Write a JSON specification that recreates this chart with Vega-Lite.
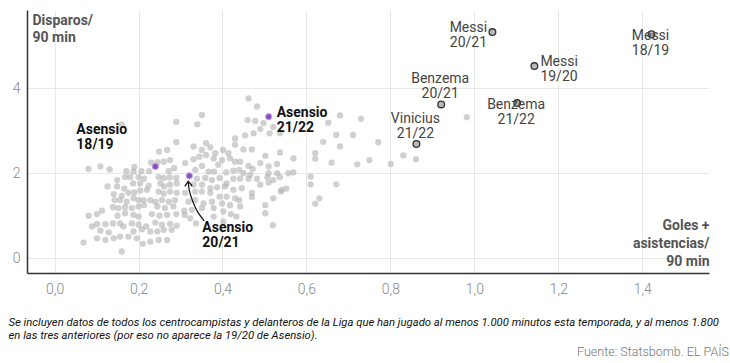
{
  "$schema": "https://vega.github.io/schema/vega-lite/v6.json",
  "width": 682,
  "height": 263,
  "autosize": {"type": "none"},
  "padding": {"left": 27, "top": 10, "right": 21, "bottom": 90},
  "background": "white",
  "config": {"view": {"stroke": null}, "font": "Roboto"},
  "datasets": {
    "nube": [
      {"ga":0.160,"disp":3.15},{"ga":0.290,"disp":3.21},{"ga":0.290,"disp":2.73},{"ga":0.268,"disp":2.55},{"ga":0.249,"disp":2.51},{"ga":0.260,"disp":2.27},{"ga":0.230,"disp":2.25},{"ga":0.245,"disp":2.26},{"ga":0.275,"disp":2.31},{"ga":0.081,"disp":2.10},{"ga":0.109,"disp":2.16},{"ga":0.131,"disp":2.09},{"ga":0.171,"disp":2.05},{"ga":0.190,"disp":2.15},{"ga":0.188,"disp":2.04},{"ga":0.207,"disp":2.05},{"ga":0.225,"disp":2.05},{"ga":0.272,"disp":2.05},{"ga":0.285,"disp":2.12},{"ga":0.149,"disp":1.84},{"ga":0.168,"disp":1.91},{"ga":0.180,"disp":1.91},{"ga":0.200,"disp":1.91},{"ga":0.213,"disp":1.87},{"ga":0.248,"disp":1.91},{"ga":0.260,"disp":1.89},{"ga":0.274,"disp":1.90},{"ga":0.290,"disp":1.89},{"ga":0.126,"disp":1.69},{"ga":0.149,"disp":1.69},{"ga":0.166,"disp":1.64},{"ga":0.187,"disp":1.76},{"ga":0.204,"disp":1.76},{"ga":0.224,"disp":1.71},{"ga":0.252,"disp":1.76},{"ga":0.261,"disp":1.69},{"ga":0.275,"disp":1.73},{"ga":0.291,"disp":1.76},{"ga":0.141,"disp":1.51},{"ga":0.160,"disp":1.47},{"ga":0.176,"disp":1.54},{"ga":0.190,"disp":1.55},{"ga":0.204,"disp":1.59},{"ga":0.220,"disp":1.61},{"ga":0.248,"disp":1.57},{"ga":0.260,"disp":1.52},{"ga":0.275,"disp":1.57},{"ga":0.291,"disp":1.54},{"ga":0.143,"disp":1.37},{"ga":0.156,"disp":1.37},{"ga":0.172,"disp":1.33},{"ga":0.188,"disp":1.41},{"ga":0.200,"disp":1.37},{"ga":0.212,"disp":1.37},{"ga":0.228,"disp":1.37},{"ga":0.240,"disp":1.33},{"ga":0.256,"disp":1.37},{"ga":0.272,"disp":1.33},{"ga":0.287,"disp":1.37},{"ga":0.113,"disp":1.12},{"ga":0.139,"disp":1.20},{"ga":0.152,"disp":1.18},{"ga":0.168,"disp":1.20},{"ga":0.184,"disp":1.18},{"ga":0.200,"disp":1.22},{"ga":0.213,"disp":1.25},{"ga":0.245,"disp":1.22},{"ga":0.263,"disp":1.18},{"ga":0.283,"disp":1.22},{"ga":0.081,"disp":1.00},{"ga":0.101,"disp":1.04},{"ga":0.150,"disp":1.00},{"ga":0.168,"disp":1.06},{"ga":0.188,"disp":1.02},{"ga":0.200,"disp":0.98},{"ga":0.232,"disp":1.04},{"ga":0.250,"disp":1.00},{"ga":0.268,"disp":1.02},{"ga":0.290,"disp":1.04},{"ga":0.089,"disp":0.75},{"ga":0.101,"disp":0.80},{"ga":0.121,"disp":0.80},{"ga":0.139,"disp":0.82},{"ga":0.156,"disp":0.82},{"ga":0.164,"disp":0.75},{"ga":0.184,"disp":0.82},{"ga":0.200,"disp":0.79},{"ga":0.218,"disp":0.75},{"ga":0.240,"disp":0.84},{"ga":0.256,"disp":0.79},{"ga":0.275,"disp":0.81},{"ga":0.291,"disp":0.77},{"ga":0.109,"disp":0.65},{"ga":0.129,"disp":0.61},{"ga":0.188,"disp":0.63},{"ga":0.208,"disp":0.68},{"ga":0.228,"disp":0.63},{"ga":0.245,"disp":0.63},{"ga":0.260,"disp":0.67},{"ga":0.279,"disp":0.67},{"ga":0.069,"disp":0.37},{"ga":0.101,"disp":0.47},{"ga":0.121,"disp":0.43},{"ga":0.141,"disp":0.47},{"ga":0.156,"disp":0.51},{"ga":0.176,"disp":0.51},{"ga":0.196,"disp":0.47},{"ga":0.210,"disp":0.34},{"ga":0.228,"disp":0.39},{"ga":0.248,"disp":0.43},{"ga":0.268,"disp":0.43},{"ga":0.160,"disp":0.16},
      {"ga":0.462,"disp":3.76},{"ga":0.482,"disp":3.57},{"ga":0.351,"disp":3.37},{"ga":0.340,"disp":3.15},{"ga":0.460,"disp":3.25},{"ga":0.478,"disp":3.23},{"ga":0.498,"disp":3.18},{"ga":0.521,"disp":3.09},{"ga":0.490,"disp":3.04},{"ga":0.430,"disp":2.82},{"ga":0.454,"disp":2.89},{"ga":0.474,"disp":2.94},{"ga":0.512,"disp":2.94},{"ga":0.537,"disp":2.94},{"ga":0.361,"disp":2.71},{"ga":0.371,"disp":2.61},{"ga":0.331,"disp":2.63},{"ga":0.351,"disp":2.55},{"ga":0.383,"disp":2.47},{"ga":0.401,"disp":2.55},{"ga":0.414,"disp":2.47},{"ga":0.430,"disp":2.67},{"ga":0.450,"disp":2.56},{"ga":0.470,"disp":2.56},{"ga":0.502,"disp":2.41},{"ga":0.537,"disp":2.49},{"ga":0.311,"disp":2.24},{"ga":0.331,"disp":2.33},{"ga":0.345,"disp":2.39},{"ga":0.361,"disp":2.43},{"ga":0.379,"disp":2.35},{"ga":0.399,"disp":2.31},{"ga":0.418,"disp":2.35},{"ga":0.430,"disp":2.27},{"ga":0.442,"disp":2.27},{"ga":0.462,"disp":2.17},{"ga":0.472,"disp":2.10},{"ga":0.490,"disp":2.24},{"ga":0.510,"disp":2.16},{"ga":0.530,"disp":2.22},{"ga":0.335,"disp":2.08},{"ga":0.351,"disp":2.17},{"ga":0.367,"disp":2.04},{"ga":0.380,"disp":2.04},{"ga":0.390,"disp":2.20},{"ga":0.409,"disp":2.02},{"ga":0.426,"disp":2.06},{"ga":0.440,"disp":2.08},{"ga":0.450,"disp":2.00},{"ga":0.466,"disp":1.96},{"ga":0.510,"disp":2.00},{"ga":0.530,"disp":2.00},{"ga":0.557,"disp":2.00},{"ga":0.339,"disp":1.87},{"ga":0.359,"disp":1.89},{"ga":0.375,"disp":1.84},{"ga":0.393,"disp":1.89},{"ga":0.410,"disp":1.76},{"ga":0.426,"disp":1.87},{"ga":0.442,"disp":1.87},{"ga":0.462,"disp":1.87},{"ga":0.482,"disp":1.87},{"ga":0.507,"disp":1.91},{"ga":0.521,"disp":1.84},{"ga":0.537,"disp":1.91},{"ga":0.331,"disp":1.73},{"ga":0.351,"disp":1.73},{"ga":0.371,"disp":1.65},{"ga":0.387,"disp":1.67},{"ga":0.406,"disp":1.69},{"ga":0.426,"disp":1.61},{"ga":0.446,"disp":1.65},{"ga":0.470,"disp":1.54},{"ga":0.490,"disp":1.73},{"ga":0.510,"disp":1.78},{"ga":0.539,"disp":1.57},{"ga":0.311,"disp":1.54},{"ga":0.335,"disp":1.57},{"ga":0.351,"disp":1.57},{"ga":0.371,"disp":1.54},{"ga":0.393,"disp":1.45},{"ga":0.410,"disp":1.45},{"ga":0.430,"disp":1.41},{"ga":0.470,"disp":1.44},{"ga":0.521,"disp":1.41},{"ga":0.541,"disp":1.61},{"ga":0.319,"disp":1.33},{"ga":0.335,"disp":1.37},{"ga":0.355,"disp":1.29},{"ga":0.375,"disp":1.33},{"ga":0.399,"disp":1.29},{"ga":0.418,"disp":1.25},{"ga":0.440,"disp":1.37},{"ga":0.502,"disp":1.25},{"ga":0.309,"disp":1.12},{"ga":0.327,"disp":1.14},{"ga":0.351,"disp":1.18},{"ga":0.379,"disp":1.18},{"ga":0.402,"disp":1.10},{"ga":0.420,"disp":1.04},{"ga":0.442,"disp":1.22},{"ga":0.502,"disp":1.06},{"ga":0.310,"disp":1.02},{"ga":0.323,"disp":0.94},{"ga":0.379,"disp":0.98},{"ga":0.402,"disp":0.86},{"ga":0.433,"disp":0.98},{"ga":0.520,"disp":0.78},{"ga":0.337,"disp":0.82},
      {"ga":0.569,"disp":2.35},{"ga":0.569,"disp":2.02},{"ga":0.621,"disp":2.47},{"ga":0.621,"disp":2.34},{"ga":0.610,"disp":1.92},{"ga":0.610,"disp":1.74},{"ga":0.631,"disp":1.41},{"ga":0.621,"disp":1.28},{"ga":0.640,"disp":2.74},{"ga":0.652,"disp":3.19},{"ga":0.671,"disp":2.90},{"ga":0.660,"disp":2.25},{"ga":0.671,"disp":1.74},{"ga":0.680,"disp":3.36},{"ga":0.680,"disp":2.63},{"ga":0.711,"disp":2.90},{"ga":0.721,"disp":2.21},{"ga":0.730,"disp":3.28},{"ga":0.750,"disp":2.31},{"ga":0.552,"disp":1.64},{"ga":0.771,"disp":2.73},{"ga":0.801,"disp":2.22},{"ga":0.831,"disp":2.42},{"ga":0.861,"disp":2.33},{"ga":0.982,"disp":3.32}
    ],
    "jugadores": [
      {"nombre":"Messi 18/19","etiqueta":"Messi\n18/19","tipo":"otro","ga":1.422,"disp":5.27},
      {"nombre":"Messi 19/20","etiqueta":"Messi\n19/20","tipo":"otro","ga":1.143,"disp":4.52},
      {"nombre":"Messi 20/21","etiqueta":"Messi\n20/21","tipo":"otro","ga":1.043,"disp":5.32},
      {"nombre":"Benzema 20/21","etiqueta":"Benzema\n20/21","tipo":"otro","ga":0.921,"disp":3.62},
      {"nombre":"Benzema 21/22","etiqueta":"Benzema\n21/22","tipo":"otro","ga":1.102,"disp":3.65},
      {"nombre":"Vinicius 21/22","etiqueta":"Vinicius\n21/22","tipo":"otro","ga":0.862,"disp":2.69},
      {"nombre":"Asensio 18/19","etiqueta":"Asensio\n18/19","tipo":"asensio","ga":0.240,"disp":2.16},
      {"nombre":"Asensio 20/21","etiqueta":"Asensio\n20/21","tipo":"asensio","ga":0.321,"disp":1.94},
      {"nombre":"Asensio 21/22","etiqueta":"Asensio\n21/22","tipo":"asensio","ga":0.510,"disp":3.33}
    ],
    "flecha": [
      {"parte":"tallo","orden":1,"ga":0.3564,"disp":0.88},
      {"parte":"tallo","orden":2,"ga":0.3398,"disp":1.11},
      {"parte":"tallo","orden":3,"ga":0.3279,"disp":1.37},
      {"parte":"tallo","orden":4,"ga":0.3207,"disp":1.61},
      {"parte":"tallo","orden":5,"ga":0.3183,"disp":1.80},
      {"parte":"punta","orden":1,"ga":0.3102,"disp":1.69},
      {"parte":"punta","orden":2,"ga":0.3183,"disp":1.81},
      {"parte":"punta","orden":3,"ga":0.3279,"disp":1.70}
    ]
  },
  "resolve": {"axis": {"x": "independent", "y": "independent"}},
  "layer": [
    {
      "data": {"name": "nube"},
      "mark": {"type": "circle", "size": 40, "color": "#b0b0b0", "opacity": 0.6},
      "encoding": {
        "x": {
          "field": "ga", "type": "quantitative",
          "scale": {"domain": [-0.0657, 1.559], "nice": false, "zero": false},
          "axis": {
            "values": [0, 0.2, 0.4, 0.6, 0.8, 1, 1.2, 1.4],
            "labelExpr": "replace(format(datum.value, '.1f'), '.', ',')",
            "ticks": false, "grid": true, "gridColor": "#e8e8e8",
            "domainColor": "#333", "domainWidth": 1.5,
            "labelPadding": 9, "labelFont": "Roboto", "labelFontSize": 14, "labelFontWeight": 300, "labelColor": "#888",
            "title": ["Goles +", "asistencias/", "90 min"],
            "titleFont": "Roboto", "titleFontSize": 14, "titleFontWeight": "bold", "titleColor": "#555",
            "titleAlign": "right", "titleAnchor": "end", "titleX": 682, "titleY": -55, "titleBaseline": "top", "titleLineHeight": 18
          }
        },
        "y": {
          "field": "disp", "type": "quantitative",
          "scale": {"domain": [-0.346, 5.84], "nice": false, "zero": false},
          "axis": {
            "values": [0, 2, 4],
            "ticks": false, "grid": true, "gridColor": "#e8e8e8",
            "domainColor": "#333", "domainWidth": 1.5,
            "labelPadding": 7, "labelFont": "Roboto", "labelFontSize": 14, "labelFontWeight": 300, "labelColor": "#888",
            "title": ["Disparos/", "90 min"],
            "titleFont": "Roboto", "titleFontSize": 14, "titleFontWeight": "bold", "titleColor": "#555",
            "titleAngle": 0, "titleAlign": "left", "titleAnchor": "start", "titleX": 5, "titleY": 3, "titleBaseline": "top", "titleLineHeight": 17
          }
        }
      }
    },
    {
      "data": {"name": "jugadores"},
      "transform": [{"filter": "datum.tipo === 'otro'"}],
      "mark": {"type": "circle", "size": 45, "fill": "#b8b8b8", "opacity": 1, "stroke": "#333", "strokeWidth": 1.3},
      "encoding": {
        "x": {
          "field": "ga", "type": "quantitative",
          "axis": {
            "orient": "top", "domain": false, "ticks": false, "labels": false, "grid": false,
            "title": ["Se incluyen datos de todos los centrocampistas y delanteros de la Liga que han jugado al menos 1.000 minutos esta temporada, y al menos 1.800", "en las tres anteriores (por eso no aparece la 19/20 de Asensio)."],
            "titleFont": "Roboto", "titleFontSize": 11.3, "titleFontStyle": "italic", "titleFontWeight": "normal", "titleColor": "#111",
            "titleAlign": "left", "titleAnchor": "start", "titleX": -19, "titleY": 306, "titleBaseline": "top", "titleLineHeight": 13
          }
        },
        "y": {
          "field": "disp", "type": "quantitative",
          "axis": {
            "orient": "right", "domain": false, "ticks": false, "labels": false, "grid": false,
            "title": "Fuente: Statsbomb. EL PAÍS",
            "titleFont": "Roboto", "titleFontSize": 12.5, "titleFontWeight": 300, "titleColor": "#777",
            "titleAngle": 0, "titleAlign": "right", "titleX": 19.5, "titleY": 341, "titleBaseline": "middle"
          }
        }
      }
    },
    {
      "data": {"name": "jugadores"},
      "transform": [{"filter": "datum.tipo === 'asensio'"}],
      "mark": {"type": "circle", "size": 40, "fill": "#8d4fc2", "opacity": 1, "stroke": "#c9a6e6", "strokeWidth": 1},
      "encoding": {
        "x": {"field": "ga", "type": "quantitative", "axis": null},
        "y": {"field": "disp", "type": "quantitative", "axis": null}
      }
    },
    {
      "data": {"name": "flecha"},
      "transform": [{"filter": "datum.parte === 'tallo'"}],
      "mark": {"type": "line", "color": "#111", "strokeWidth": 1.2, "interpolate": "natural"},
      "encoding": {
        "x": {"field": "ga", "type": "quantitative", "axis": null},
        "y": {"field": "disp", "type": "quantitative", "axis": null},
        "order": {"field": "orden"}
      }
    },
    {
      "data": {"name": "flecha"},
      "transform": [{"filter": "datum.parte === 'punta'"}],
      "mark": {"type": "line", "color": "#111", "strokeWidth": 1.2},
      "encoding": {
        "x": {"field": "ga", "type": "quantitative", "axis": null},
        "y": {"field": "disp", "type": "quantitative", "axis": null},
        "order": {"field": "orden"}
      }
    },
    {
      "data": {"name": "jugadores"},
      "transform": [{"filter": "datum.nombre === 'Messi 20/21'"}],
      "mark": {"type": "text", "font": "Roboto", "fontSize": 14, "color": "#444", "lineBreak": "\n", "lineHeight": 15, "baseline": "top", "align": "center", "dx": -24, "dy": -11},
      "encoding": {
        "x": {"field": "ga", "type": "quantitative", "axis": null},
        "y": {"field": "disp", "type": "quantitative", "axis": null},
        "text": {"field": "etiqueta"}
      }
    },
    {
      "data": {"name": "jugadores"},
      "transform": [{"filter": "datum.nombre === 'Messi 19/20'"}],
      "mark": {"type": "text", "font": "Roboto", "fontSize": 14, "color": "#444", "lineBreak": "\n", "lineHeight": 15, "baseline": "top", "align": "left", "dx": 6, "dy": -11},
      "encoding": {
        "x": {"field": "ga", "type": "quantitative", "axis": null},
        "y": {"field": "disp", "type": "quantitative", "axis": null},
        "text": {"field": "etiqueta"}
      }
    },
    {
      "data": {"name": "jugadores"},
      "transform": [{"filter": "datum.nombre === 'Messi 18/19' || datum.nombre === 'Benzema 21/22'"}],
      "mark": {"type": "text", "font": "Roboto", "fontSize": 14, "color": "#444", "lineBreak": "\n", "lineHeight": 15, "baseline": "top", "align": "center", "dx": -1, "dy": -5},
      "encoding": {
        "x": {"field": "ga", "type": "quantitative", "axis": null},
        "y": {"field": "disp", "type": "quantitative", "axis": null},
        "text": {"field": "etiqueta"}
      }
    },
    {
      "data": {"name": "jugadores"},
      "transform": [{"filter": "datum.nombre === 'Benzema 20/21' || datum.nombre === 'Vinicius 21/22'"}],
      "mark": {"type": "text", "font": "Roboto", "fontSize": 14, "color": "#444", "lineBreak": "\n", "lineHeight": 15, "baseline": "top", "align": "center", "dx": -1, "dy": -32},
      "encoding": {
        "x": {"field": "ga", "type": "quantitative", "axis": null},
        "y": {"field": "disp", "type": "quantitative", "axis": null},
        "text": {"field": "etiqueta"}
      }
    },
    {
      "data": {"name": "jugadores"},
      "transform": [{"filter": "datum.nombre === 'Asensio 18/19'"}],
      "mark": {"type": "text", "font": "Roboto", "fontSize": 14, "fontWeight": "bold", "color": "#111", "lineBreak": "\n", "lineHeight": 15, "baseline": "top", "align": "left", "dx": -79, "dy": -43},
      "encoding": {
        "x": {"field": "ga", "type": "quantitative", "axis": null},
        "y": {"field": "disp", "type": "quantitative", "axis": null},
        "text": {"field": "etiqueta"}
      }
    },
    {
      "data": {"name": "jugadores"},
      "transform": [{"filter": "datum.nombre === 'Asensio 21/22'"}],
      "mark": {"type": "text", "font": "Roboto", "fontSize": 14, "fontWeight": "bold", "color": "#111", "lineBreak": "\n", "lineHeight": 15, "baseline": "top", "align": "left", "dx": 8, "dy": -11},
      "encoding": {
        "x": {"field": "ga", "type": "quantitative", "axis": null},
        "y": {"field": "disp", "type": "quantitative", "axis": null},
        "text": {"field": "etiqueta"}
      }
    },
    {
      "data": {"name": "jugadores"},
      "transform": [{"filter": "datum.nombre === 'Asensio 20/21'"}],
      "mark": {"type": "text", "font": "Roboto", "fontSize": 14, "fontWeight": "bold", "color": "#111", "lineBreak": "\n", "lineHeight": 15, "baseline": "top", "align": "left", "dx": 13, "dy": 45},
      "encoding": {
        "x": {"field": "ga", "type": "quantitative", "axis": null},
        "y": {"field": "disp", "type": "quantitative", "axis": null},
        "text": {"field": "etiqueta"}
      }
    }
  ]
}
